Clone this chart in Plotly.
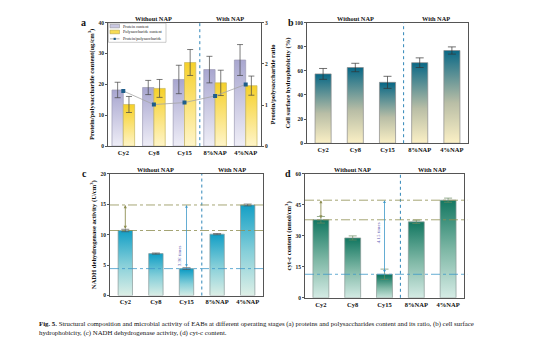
import plotly.graph_objects as go

# ---------------- data ----------------
categories = ["Cy2", "Cy8", "Cy15", "8%NAP", "4%NAP"]
group_labels = ["Without NAP", "With NAP"]

protein = [18.2, 19.0, 21.6, 24.8, 27.9]
protein_err = [2.5, 2.3, 4.6, 4.3, 5.0]
polysac = [13.5, 18.7, 27.1, 20.5, 19.6]
polysac_err = [2.6, 2.9, 4.2, 4.1, 3.1]
ratio = [1.34, 1.01, 1.06, 1.22, 1.50]

hydro = [57.5, 62.8, 50.5, 66.8, 76.9]
hydro_err = [4.5, 3.5, 5.0, 4.0, 3.0]

nadh = [10.7, 6.9, 4.43, 10.1, 14.9]
nadh_err = [0.2, 0.1, 0.15, 0.1, 0.15]

cytc = [37.8, 29.0, 11.4, 36.8, 47.3]
cytc_err = [1.6, 1.0, 2.5, 0.8, 1.0]

fold_labels = ["3.36 times", "4.15 times"]

caption_line1 = ("<b>Fig. 5.</b> Structural composition and microbial activity of EABs at different operating "
                 "stages (a) proteins and polysaccharides content and its ratio, (b) cell surface")
caption_line2 = "hydrophobicity, (c) NADH dehydrogenase activity, (d) cyt-c content."

# ---------------- helpers ----------------
W, H = 554, 346
FONT = "Liberation Serif"


def px(x):
    return x / W


def py(y):
    return 1 - y / H


idx = list(range(len(categories)))
fig = go.Figure()


def add_bars(xa, ya, xs, values, width, colorscale, outline):
    for xc, v in zip(xs, values):
        fig.add_trace(go.Scatter(
            x=[xc - width / 2, xc - width / 2, xc + width / 2, xc + width / 2, xc - width / 2],
            y=[0, v, v, 0, 0], xaxis=xa, yaxis=ya, mode="lines", fill="toself",
            fillgradient=dict(type="vertical", colorscale=colorscale, start=0, stop=v),
            line=dict(color=outline, width=0.7), hoverinfo="skip", showlegend=False))


def add_err(xa, ya, xs, values, errs, color, cap):
    fig.add_trace(go.Scatter(
        x=xs, y=values, xaxis=xa, yaxis=ya, mode="markers",
        marker=dict(size=1, color="rgba(0,0,0,0)"),
        error_y=dict(type="data", array=errs, color=color, thickness=0.7, width=cap),
        hoverinfo="skip", showlegend=False))


# ---------------- panel a ----------------
bw_a = 0.37
lav_scale = [[0, "#f1f0f8"], [1, "#a9a7d0"]]
yel_scale = [[0, "#fff6cf"], [1, "#f6d12c"]]
xs_p = [i - bw_a / 2 for i in idx]
xs_s = [i + bw_a / 2 for i in idx]
add_bars("x", "y", xs_p, protein, bw_a, lav_scale, "#9d9cb5")
add_bars("x", "y", xs_s, polysac, bw_a, yel_scale, "#c9b860")
add_err("x", "y", xs_p, protein, protein_err, "#444", 3)
add_err("x", "y", xs_s, polysac, polysac_err, "#444", 3)
fig.add_trace(go.Scatter(x=idx, y=ratio, xaxis="x", yaxis="y2", mode="lines+markers",
                         line=dict(color="#a4a4a4", width=0.8),
                         marker=dict(color="#1f5d8a", size=4, symbol="square"),
                         hoverinfo="skip", showlegend=False))

# ---------------- panel b ----------------
bw = 0.5
b_scale = [[0, "#fff3c7"], [0.45, "#b9bea6"], [1, "#0b6986"]]
add_bars("x2", "y3", idx, hydro, bw, b_scale, "#8a8a8a")
add_err("x2", "y3", idx, hydro, hydro_err, "#333", 4)

# ---------------- panel c ----------------
bw_c = 0.47
c_scale = [[0, "#e2f1e7"], [0.5, "#86cfd9"], [1, "#15a0c6"]]
add_bars("x3", "y4", idx, nadh, bw_c, c_scale, "#8a9a9a")
add_err("x3", "y4", idx, nadh, nadh_err, "#555", 4)

# ---------------- panel d ----------------
d_scale = [[0, "#d9eee8"], [0.5, "#7fb8a6"], [1, "#147862"]]
add_bars("x4", "y5", idx, cytc, bw, d_scale, "#8a9a95")
add_err("x4", "y5", idx, cytc, cytc_err, "#6a8a60", 4)

# ---------------- axes ----------------
tickfont_y = dict(family=FONT, size=5.5, color="#222", weight="bold")
tickfont_x = dict(family=FONT, size=6.5, color="#111", weight="bold")
titlefont = dict(family=FONT, size=6.6, color="#111", weight="bold")


def xax(domain, anchor):
    return dict(domain=domain, anchor=anchor, range=[-0.5, 4.5], tickvals=idx, ticktext=categories,
                showline=True, mirror=True, linecolor="#555", linewidth=1, ticks="",
                tickfont=tickfont_x, showgrid=False, zeroline=False, fixedrange=True)


def yax(domain, anchor, rng, dtick, title, standoff=3):
    return dict(domain=domain, anchor=anchor, range=rng, dtick=dtick, tick0=0,
                showline=True, mirror=True, linecolor="#555", linewidth=1,
                ticks="outside", ticklen=2, tickwidth=0.8, tickcolor="#555",
                tickfont=tickfont_y, showgrid=False, zeroline=False, fixedrange=True,
                title=dict(text=title, font=titlefont, standoff=standoff))


dom_a_x = [px(108), px(261)]
dom_a_y = [py(145.7), py(20)]
dom_b_x = [px(307), px(468)]
dom_b_y = [py(142.7), py(20)]
dom_c_x = [px(110), px(263)]
dom_c_y = [py(297.7), py(174)]
dom_d_x = [px(305), px(464)]
dom_d_y = [py(300), py(174)]

y2 = yax(dom_a_y, "x", [0, 3], 1, "Protein/polysaccharide ratio")
y2.update(overlaying="y", side="right", mirror=False)

fig.update_layout(
    width=W, height=H, margin=dict(l=0, r=0, t=0, b=0),
    paper_bgcolor="white", plot_bgcolor="white", showlegend=False,
    font=dict(family=FONT, color="#111"),
    xaxis=xax(dom_a_x, "y"),
    yaxis=yax(dom_a_y, "x", [0, 40], 10, "Protein/polysaccharide content(ug/cm<sup>3</sup>)"),
    yaxis2=y2,
    xaxis2=xax(dom_b_x, "y3"),
    yaxis3=yax(dom_b_y, "x2", [0, 100], 20, "Cell surface hydrophobicity (%)"),
    xaxis3=xax(dom_c_x, "y4"),
    yaxis4=yax(dom_c_y, "x3", [0, 20], 5, "NADH dehydrogenase activity (U/cm<sup>3</sup>)"),
    xaxis4=xax(dom_d_x, "y5"),
    yaxis5=yax(dom_d_y, "x4", [0, 60], 15, "cyt-c content (nmol/cm<sup>3</sup>)"),
)

shapes = []
annotations = []

# vertical separators and group labels
panels = [("x", "y", 15.5), ("x2", "y3", 15.5), ("x3", "y4", 169.5), ("x4", "y5", 169.5)]
for xa, ya, ty in panels:
    shapes.append(dict(type="line", xref=xa, yref=ya + " domain", x0=2.5, x1=2.5, y0=0, y1=1,
                       line=dict(color="#2f86b8", width=1, dash="dot")))
    for lab, xc in zip(group_labels, [1.0, 3.5]):
        annotations.append(dict(text="<b>" + lab + "</b>", xref=xa, yref="paper", x=xc, y=py(ty),
                                showarrow=False, font=dict(family=FONT, size=6.3, color="#111"),
                                xanchor="center", yanchor="middle"))

# panel letters
for letter, (lx, ly) in zip("abcd", [(83, 20), (291, 20), (84, 174), (288, 174)]):
    annotations.append(dict(text="<b>" + letter + "</b>", xref="paper", yref="paper", x=px(lx), y=py(ly),
                            showarrow=False, font=dict(family=FONT, size=10, color="#111"),
                            xanchor="center", yanchor="middle"))

# reference lines and arrows in panels c and d
olive = "#8e8e52"
blue = "#3d98c8"
for xa, ya, vals, fold in [("x3", "y4", nadh, fold_labels[0]), ("x4", "y5", cytc, fold_labels[1])]:
    top, first, low = vals[4], vals[0], vals[2]
    for v, col in [(top, olive), (first, olive), (low, blue)]:
        shapes.append(dict(type="line", xref=xa + " domain", yref=ya, x0=0, x1=1.02, y0=v, y1=v,
                           line=dict(color=col, width=0.8, dash="dashdot")))
    annotations.append(dict(text="", x=0, y=top, ax=0, ay=first, xref=xa, yref=ya, axref=xa, ayref=ya,
                            showarrow=True, arrowhead=2, arrowsize=0.7, arrowwidth=0.9,
                            arrowside="end+start", arrowcolor=olive))
    annotations.append(dict(text="", x=2, y=top, ax=2, ay=low, xref=xa, yref=ya, axref=xa, ayref=ya,
                            showarrow=True, arrowhead=2, arrowsize=0.7, arrowwidth=0.8,
                            arrowside="end+start", arrowcolor=blue))
    annotations.append(dict(text=fold, x=1.8, y=low + (top - low) * 0.2 if xa == "x3" else (top + low) / 2 + 2,
                            xref=xa, yref=ya, showarrow=False, textangle=-90,
                            font=dict(family=FONT, size=5, color="#5a5ab4"),
                            xanchor="center", yanchor="middle"))

# manual legend for panel a
shapes.append(dict(type="rect", xref="paper", yref="paper", x0=px(108.5), x1=px(166), y0=py(40), y1=py(20.5),
                   line=dict(color="#999", width=0.5), fillcolor="white", layer="above"))
shapes.append(dict(type="rect", xref="paper", yref="paper", x0=px(110), x1=px(119.5), y0=py(25.3), y1=py(21.7),
                   line=dict(color="#888", width=0.5), fillcolor="#c9c7e2", layer="above"))
shapes.append(dict(type="rect", xref="paper", yref="paper", x0=px(110), x1=px(119.5), y0=py(31.3), y1=py(27.6),
                   line=dict(color="#aa9a40", width=0.5), fillcolor="#f7dc55", layer="above"))
shapes.append(dict(type="line", xref="paper", yref="paper", x0=px(110), x1=px(119.5), y0=py(36.5), y1=py(36.5),
                   line=dict(color="#a4a4a4", width=0.8), layer="above"))
shapes.append(dict(type="rect", xref="paper", yref="paper", x0=px(113.6), x1=px(115.8), y0=py(37.6), y1=py(35.4),
                   line=dict(width=0), fillcolor="#1f5d8a", layer="above"))
for txt, ty in [("Protein content", 23.5), ("Polysaccharide content", 29.5), ("Protein/polysaccharide", 36.5)]:
    annotations.append(dict(text=txt, xref="paper", yref="paper", x=px(121), y=py(ty), showarrow=False,
                            font=dict(family=FONT, size=4.2, color="#222"), xanchor="left", yanchor="middle"))

# caption
annotations.append(dict(text=caption_line1, xref="paper", yref="paper", x=px(37), y=py(326.5),
                        showarrow=False, font=dict(family=FONT, size=6.8, color="#111"),
                        xanchor="left", yanchor="middle"))
annotations.append(dict(text=caption_line2, xref="paper", yref="paper", x=px(37), y=py(335.5),
                        showarrow=False, font=dict(family=FONT, size=6.8, color="#111"),
                        xanchor="left", yanchor="middle"))

fig.update_layout(shapes=shapes, annotations=annotations)
fig.write_html("out.html")
